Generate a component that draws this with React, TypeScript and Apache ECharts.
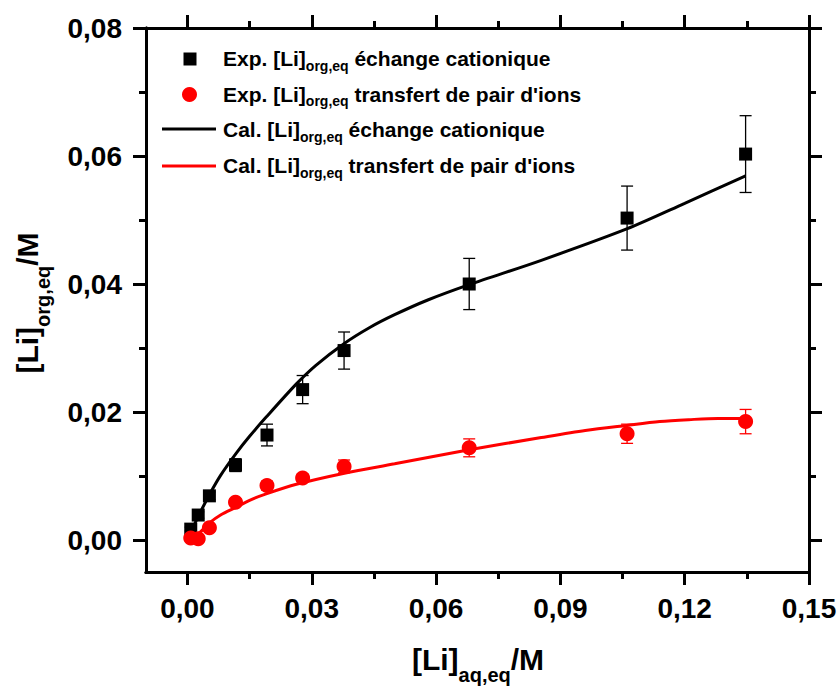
import React, { useEffect, useRef } from "react";
import * as echarts from "echarts";

// ---- data ----
const xExp = [0.0008, 0.0026, 0.0053, 0.0116, 0.0192, 0.0278, 0.0378, 0.068, 0.1061, 0.1347];
const expCation = [0.0017, 0.0039, 0.0069, 0.0117, 0.0164, 0.0235, 0.0296, 0.04, 0.0503, 0.0603];
const errCation = [0.0003, 0.0005, 0.0006, 0.001, 0.0017, 0.0022, 0.0029, 0.004, 0.005, 0.006];
const expPair = [0.0003, 0.0002, 0.0019, 0.0059, 0.0085, 0.0097, 0.0115, 0.0144, 0.0166, 0.0185];
const errPair = [0.0001, 0.0001, 0.0003, 0.0005, 0.0007, 0.0006, 0.001, 0.0014, 0.0015, 0.0019];

const xCalCation = [0.0008, 0.003, 0.0054, 0.008, 0.0117, 0.015, 0.019, 0.0263, 0.031, 0.0376, 0.044, 0.05, 0.058, 0.068, 0.0854, 0.106, 0.12, 0.1347];
const calCation = [0.0012, 0.0042, 0.0072, 0.0101, 0.0135, 0.0162, 0.0192, 0.0244, 0.0273, 0.0306, 0.0332, 0.0352, 0.0375, 0.0399, 0.0437, 0.0486, 0.0526, 0.0569];
const xCalPair = [0.0008, 0.003, 0.0054, 0.008, 0.0117, 0.015, 0.019, 0.0263, 0.0376, 0.05, 0.068, 0.0854, 0.096, 0.106, 0.114, 0.121, 0.128, 0.1347];
const calPair = [0.0003, 0.0012, 0.0027, 0.0039, 0.0051, 0.0062, 0.0072, 0.0087, 0.0104, 0.0119, 0.0141, 0.016, 0.0171, 0.0179, 0.0185, 0.0188, 0.019, 0.019];

const xMajorTicks = [0, 0.03, 0.06, 0.09, 0.12, 0.15];
const xMinorTicks = [0.015, 0.045, 0.075, 0.105, 0.135];
const yMajorTicks = [0, 0.02, 0.04, 0.06, 0.08];
const yMinorTicks = [0.01, 0.03, 0.05, 0.07];

const legendLabels = [
  { pre: "Exp. [Li]", sub: "org,eq", post: " échange cationique" },
  { pre: "Exp. [Li]", sub: "org,eq", post: " transfert de pair d'ions" },
  { pre: "Cal. [Li]", sub: "org,eq", post: " échange cationique" },
  { pre: "Cal. [Li]", sub: "org,eq", post: " transfert de pair d'ions" },
];

const FONT = "'Liberation Sans', Arial, Helvetica, sans-serif";
const RED = "#ff0000";
const BLACK = "#000000";

const fmt = (v: number) => v.toFixed(2).replace(".", ",");

function makeAxis(kind: "x" | "y", position: string, ticks: number[], len: number, labels: boolean) {
  const isX = kind === "x";
  return {
    type: "value",
    position,
    min: isX ? -0.01 : -0.005,
    max: isX ? 0.15 : 0.08,
    axisLine: { show: true, onZero: false, lineStyle: { color: BLACK, width: 3 } },
    axisTick: {
      show: true,
      inside: false,
      length: len,
      customValues: ticks,
      lineStyle: { color: BLACK, width: 3 },
    },
    axisLabel: labels
      ? {
          show: true,
          customValues: ticks,
          formatter: (v: number) => fmt(v),
          fontSize: 28,
          fontWeight: "bold",
          fontFamily: FONT,
          color: BLACK,
          margin: isX ? 22 : 24,
          showMinLabel: true,
          showMaxLabel: true,
        }
      : { show: false },
    splitLine: { show: false },
    minorTick: { show: false },
  };
}

function errorBarSeries(xs: number[], ys: number[], es: number[], color: string) {
  return {
    type: "custom",
    xAxisIndex: 0,
    yAxisIndex: 0,
    z: 1,
    silent: true,
    encode: { x: 0, y: 1 },
    data: xs.map((x, i) => [x, ys[i], es[i]]),
    renderItem: (params: any, api: any) => {
      const x = api.value(0);
      const y = api.value(1);
      const e = api.value(2);
      const top = api.coord([x, y + e]);
      const bot = api.coord([x, y - e]);
      const hw = 6;
      const st = { stroke: color, lineWidth: 1.3 };
      return {
        type: "group",
        children: [
          { type: "line", shape: { x1: top[0], y1: top[1], x2: bot[0], y2: bot[1] }, style: st },
          { type: "line", shape: { x1: top[0] - hw, y1: top[1], x2: top[0] + hw, y2: top[1] }, style: st },
          { type: "line", shape: { x1: bot[0] - hw, y1: bot[1], x2: bot[0] + hw, y2: bot[1] }, style: st },
        ],
      };
    },
  };
}

export default function App() {
  const ref = useRef<HTMLDivElement>(null);

  useEffect(() => {
    document.body.style.margin = "0";
    if (!ref.current) return;
    const chart = echarts.init(ref.current, null, { renderer: "svg" });

    const legendRowsY = [58.5, 94, 129.5, 165.5];
    const legendText = legendLabels.map((l, i) => ({
      type: "text",
      x: 223,
      y: legendRowsY[i],
      style: {
        text: `{m|${l.pre}}{s|${l.sub}}{m|${l.post}}`,
        align: "left",
        verticalAlign: "middle",
        fill: BLACK,
        rich: {
          m: { fontSize: 21, fontWeight: "bold", fontFamily: FONT, fill: BLACK },
          s: { fontSize: 14, fontWeight: "bold", fontFamily: FONT, fill: BLACK, padding: [14, 0, 0, 0] },
        },
      },
    }));

    const option: any = {
      animation: false,
      backgroundColor: "#ffffff",
      grid: { left: 146, top: 28, width: 663, height: 544, containLabel: false },
      xAxis: [
        makeAxis("x", "bottom", xMajorTicks, 13, true),
        makeAxis("x", "bottom", xMinorTicks, 7, false),
        makeAxis("x", "top", xMajorTicks, 13, false),
        makeAxis("x", "top", xMinorTicks, 7, false),
      ],
      yAxis: [
        makeAxis("y", "left", yMajorTicks, 13, true),
        makeAxis("y", "left", yMinorTicks, 7, false),
        makeAxis("y", "right", yMajorTicks, 13, false),
        makeAxis("y", "right", yMinorTicks, 7, false),
      ],
      series: [
        errorBarSeries(xExp, expCation, errCation, BLACK),
        errorBarSeries(xExp, expPair, errPair, RED),
        {
          name: "Cal. cation",
          type: "line",
          xAxisIndex: 0,
          yAxisIndex: 0,
          z: 2,
          smooth: 0.3,
          symbol: "none",
          showSymbol: false,
          lineStyle: { color: BLACK, width: 3 },
          data: xCalCation.map((x, i) => [x, calCation[i]]),
        },
        {
          name: "Cal. pair",
          type: "line",
          xAxisIndex: 0,
          yAxisIndex: 0,
          z: 2,
          smooth: 0.3,
          symbol: "none",
          showSymbol: false,
          lineStyle: { color: RED, width: 3 },
          data: xCalPair.map((x, i) => [x, calPair[i]]),
        },
        {
          name: "Exp. cation",
          type: "scatter",
          xAxisIndex: 0,
          yAxisIndex: 0,
          z: 3,
          symbol: "rect",
          symbolSize: 13,
          itemStyle: { color: BLACK, opacity: 1 },
          data: xExp.map((x, i) => [x, expCation[i]]),
        },
        {
          name: "Exp. pair",
          type: "scatter",
          xAxisIndex: 0,
          yAxisIndex: 0,
          z: 3,
          symbol: "circle",
          symbolSize: 15,
          itemStyle: { color: RED, opacity: 1 },
          data: xExp.map((x, i) => [x, expPair[i]]),
        },
      ],
      graphic: [
        { type: "rect", shape: { x: 183.5, y: 52.5, width: 13, height: 13 }, style: { fill: BLACK } },
        { type: "circle", shape: { cx: 189.5, cy: 94.5, r: 7.5 }, style: { fill: RED } },
        { type: "line", shape: { x1: 162, y1: 129, x2: 216, y2: 129 }, style: { stroke: BLACK, lineWidth: 3 } },
        { type: "line", shape: { x1: 162, y1: 166, x2: 216, y2: 166 }, style: { stroke: RED, lineWidth: 3 } },
        ...legendText,
        {
          type: "text",
          x: 478,
          y: 659,
          style: {
            text: "{m|[Li]}{s|aq,eq}{m|/M}",
            align: "center",
            verticalAlign: "middle",
            fill: BLACK,
            rich: {
              m: { fontSize: 30, fontWeight: "bold", fontFamily: FONT, fill: BLACK },
              s: { fontSize: 20, fontWeight: "bold", fontFamily: FONT, fill: BLACK, padding: [32, 0, 0, 0] },
            },
          },
        },
        {
          type: "text",
          x: 27,
          y: 303,
          rotation: Math.PI / 2,
          style: {
            text: "{m|[Li]}{s|org,eq}{m|/M}",
            align: "center",
            verticalAlign: "middle",
            fill: BLACK,
            rich: {
              m: { fontSize: 30, fontWeight: "bold", fontFamily: FONT, fill: BLACK },
              s: { fontSize: 20, fontWeight: "bold", fontFamily: FONT, fill: BLACK, padding: [32, 0, 0, 0] },
            },
          },
        },
      ],
    };

    chart.setOption(option);
    return () => {
      chart.dispose();
    };
  }, []);

  return <div ref={ref} style={{ width: 840, height: 686 }} />;
}
